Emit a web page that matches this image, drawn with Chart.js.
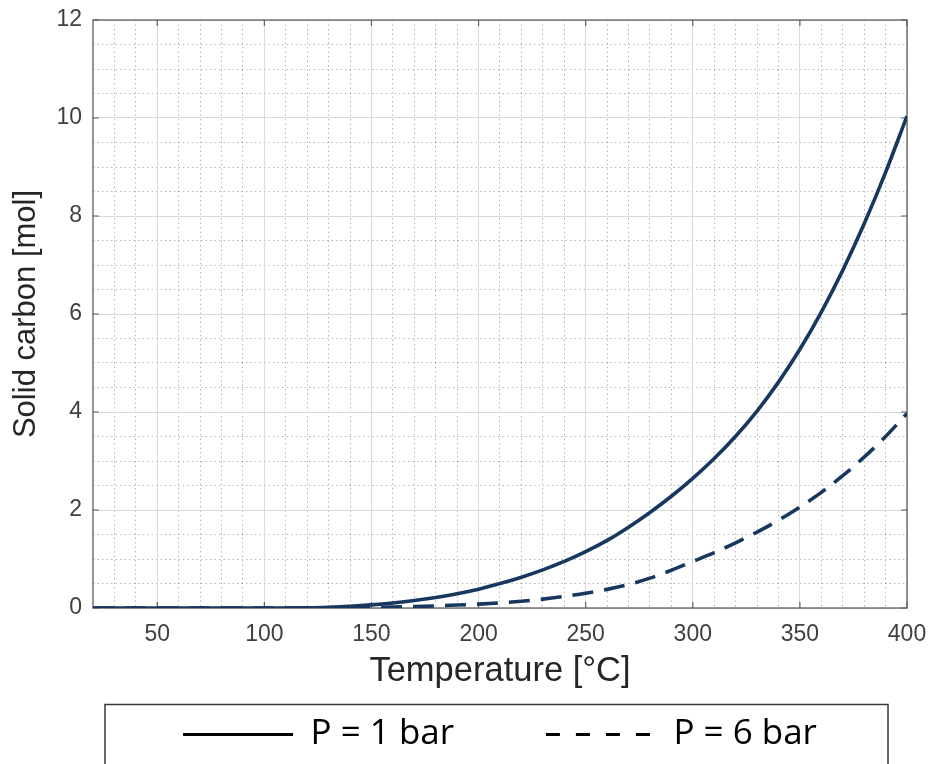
<!DOCTYPE html>
<html>
<head>
<meta charset="utf-8">
<script src="https://cdn.jsdelivr.net/npm/chart.js@4/dist/chart.umd.min.js"></script>
<style>
  html, body { margin: 0; padding: 0; background: #ffffff; }
  #wrap { width: 932px; height: 764px; position: relative; overflow: hidden; }
</style>
</head>
<body>
<div id="wrap"><canvas id="c" width="932" height="764"></canvas></div>
<script>
// ---- data ----
const temperatures = [20, 30, 40, 50, 60, 70, 80, 90, 100, 110, 120, 130, 140, 150, 160, 170, 180, 190, 200,
  210, 220, 230, 240, 250, 260, 270, 280, 290, 300, 310, 320, 330, 340, 350, 360, 370, 380, 390, 400];
const carbon1bar = [0, 0, 0, 0, 0, 0, 0, 0, 0, 0, 0.003, 0.013, 0.033, 0.063, 0.103, 0.153, 0.216, 0.293, 0.385,
  0.498, 0.628, 0.778, 0.95, 1.15, 1.38, 1.65, 1.95, 2.28, 2.645, 3.05, 3.505, 4.02, 4.61, 5.28, 6.04, 6.89, 7.84, 8.89, 10.04];
const carbon6bar = [0, 0, 0, 0, 0, 0, 0, 0, 0, 0, 0, 0.002, 0.006, 0.012, 0.02, 0.03, 0.043, 0.06, 0.08,
  0.105, 0.138, 0.181, 0.236, 0.30, 0.38, 0.48, 0.61, 0.77, 0.95, 1.13, 1.33, 1.55, 1.79, 2.06, 2.36, 2.70, 3.08, 3.50, 3.97];
const seriesLabels = ['P = 1 bar', 'P = 6 bar'];
const xTickValues = [50, 100, 150, 200, 250, 300, 350, 400];
const yTickValues = [0, 2, 4, 6, 8, 10, 12];
const xTitle = 'Temperature [°C]';
const yTitle = 'Solid carbon [mol]';

// ---- styles ----
const lineColor = '#17375e';
const axisFont = "'Liberation Sans', Arial, Helvetica, sans-serif";
const majorGrid = '#dadada';
const minorGrid = 'rgba(0,0,0,0.28)';
const frameColor = '#5e5e5e';

const toPoints = ys => temperatures.map((t, i) => ({ x: t, y: ys[i] }));

// frame around the plot + inward tick marks (positions from the chart's own scales)
const framePlugin = {
  id: 'frame',
  beforeDatasetsDraw(chart) {
    const { ctx, chartArea: a, scales } = chart;
    ctx.save();
    ctx.strokeStyle = frameColor;
    ctx.lineWidth = 1.3;
    ctx.strokeRect(a.left, a.top, a.right - a.left, a.bottom - a.top);
    ctx.lineWidth = 1.2;
    ctx.beginPath();
    const tl = 6;
    xTickValues.forEach(v => {
      const px = scales.x.getPixelForValue(v);
      ctx.moveTo(px, a.bottom); ctx.lineTo(px, a.bottom - tl);
      ctx.moveTo(px, a.top); ctx.lineTo(px, a.top + tl);
    });
    yTickValues.forEach(v => {
      const py = scales.y.getPixelForValue(v);
      ctx.moveTo(a.left, py); ctx.lineTo(a.left + tl, py);
      ctx.moveTo(a.right, py); ctx.lineTo(a.right - tl, py);
    });
    ctx.stroke();
    ctx.restore();
  }
};

const legendBoxPlugin = {
  id: 'legendBox',
  afterDraw(chart) {
    const lg = chart.legend;
    if (!lg) return;
    const ctx = chart.ctx;
    const pad = lg.options.labels.padding;
    const fs = lg.options.labels.font.size;
    const top = lg.top + pad + fs / 2 - 30;
    ctx.save();
    ctx.strokeStyle = '#3a3a3a';
    ctx.lineWidth = 1.5;
    ctx.strokeRect(lg.left + 12, top, lg.width - 31, chart.height - top + 20);
    ctx.restore();
  }
};

const legendGap = '         ';

new Chart(document.getElementById('c'), {
  type: 'line',
  data: {
    datasets: [
      {
        label: seriesLabels[0],
        data: toPoints(carbon1bar),
        borderColor: lineColor,
        borderWidth: 3.6,
        pointRadius: 0,
        fill: false,
        cubicInterpolationMode: 'monotone',
        xAxisID: 'x', yAxisID: 'y'
      },
      {
        label: seriesLabels[1],
        data: toPoints(carbon6bar),
        borderColor: lineColor,
        borderWidth: 3.6,
        borderDash: [21, 11],
        pointRadius: 0,
        fill: false,
        cubicInterpolationMode: 'monotone',
        xAxisID: 'x', yAxisID: 'y'
      }
    ]
  },
  options: {
    responsive: false,
    animation: false,
    layout: { padding: { top: 20, right: 25, bottom: 2, left: 0 } },
    plugins: {
      tooltip: { enabled: false },
      legend: {
        position: 'bottom',
        fullSize: false,
        labels: {
          usePointStyle: true,
          pointStyleWidth: 110,
          padding: 10,
          color: '#000',
          font: { family: "'Open Sans', 'Noto Sans', sans-serif", size: 35 },
          generateLabels: chart => chart.data.datasets.map((ds, i) => ({
            text: ds.label + (i === 0 ? legendGap : ''),
            fillStyle: 'rgba(0,0,0,0)',
            strokeStyle: '#000',
            lineWidth: 3,
            lineDash: i === 1 ? [14, 16] : [],
            lineCap: 'butt',
            pointStyle: 'line',
            hidden: false,
            datasetIndex: i,
            fontColor: '#000'
          }))
        }
      }
    },
    scales: {
      xMinor: {
        type: 'linear',
        position: 'bottom',
        min: 20, max: 400,
        ticks: { display: false, stepSize: 10 },
        grid: {
          drawTicks: false,
          lineWidth: 1,
          color: c => (c.tick && (c.tick.value % 50 === 0 || c.tick.value === 20)) ? 'rgba(0,0,0,0)' : minorGrid
        },
        border: { display: false, dash: [1.5, 3] }
      },
      yMinor: {
        type: 'linear',
        position: 'left',
        min: 0, max: 12,
        ticks: { display: false, stepSize: 0.5 },
        grid: {
          drawTicks: false,
          lineWidth: 1,
          color: c => (c.tick && c.tick.value % 2 === 0) ? 'rgba(0,0,0,0)' : minorGrid
        },
        border: { display: false, dash: [1.5, 3] }
      },
      x: {
        type: 'linear',
        position: 'bottom',
        min: 20, max: 400,
        afterBuildTicks: axis => { axis.ticks = xTickValues.map(v => ({ value: v })); },
        ticks: {
          padding: 0,
          color: '#404040',
          font: { family: axisFont, size: 23 },
          maxRotation: 0,
          autoSkip: false
        },
        grid: {
          color: majorGrid,
          lineWidth: 1,
          drawTicks: true,
          tickLength: 12.8,
          tickColor: 'rgba(0,0,0,0)'
        },
        border: { display: false },
        title: {
          display: true,
          text: xTitle,
          color: '#262626',
          font: { family: axisFont, size: 34.5 },
          padding: { top: 1.9, bottom: 15.3 }
        }
      },
      y: {
        type: 'linear',
        position: 'left',
        min: 0, max: 12,
        afterBuildTicks: axis => { axis.ticks = yTickValues.map(v => ({ value: v })); },
        ticks: {
          padding: 0,
          color: '#404040',
          font: { family: axisFont, size: 23 }
        },
        grid: {
          color: majorGrid,
          lineWidth: 1,
          drawTicks: true,
          tickLength: 11,
          tickColor: 'rgba(0,0,0,0)'
        },
        border: { display: false },
        title: {
          display: true,
          text: yTitle,
          color: '#262626',
          font: { family: axisFont, size: 31 },
          padding: { top: 7.9, bottom: 11.3 }
        }
      }
    }
  },
  plugins: [framePlugin, legendBoxPlugin]
});
</script>
</body>
</html>
